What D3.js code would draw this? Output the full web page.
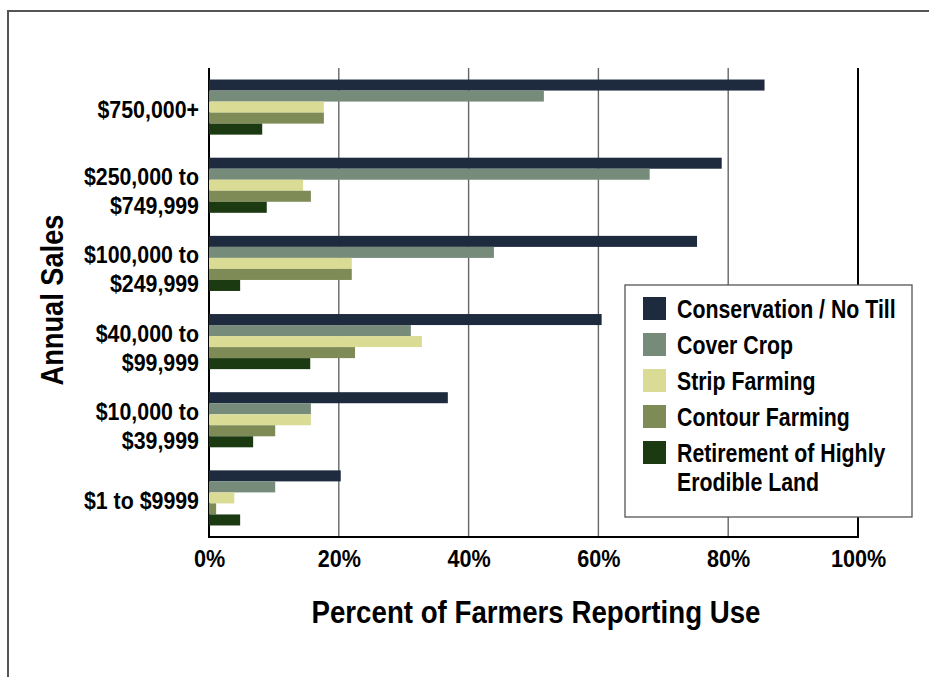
<!DOCTYPE html>
<html>
<head>
<meta charset="utf-8">
<script src="https://cdn.jsdelivr.net/npm/d3@7"></script>
<style>
  html, body { margin: 0; padding: 0; background: #fff; }
  svg text { font-family: "Liberation Sans", Arial, sans-serif; font-weight: bold; fill: #000; }
</style>
</head>
<body>
<svg id="chart" width="929" height="677"></svg>
<script>
// Sales classes, top to bottom
const categories = [
  ["$750,000+"],
  ["$250,000 to", "$749,999"],
  ["$100,000 to", "$249,999"],
  ["$40,000 to", "$99,999"],
  ["$10,000 to", "$39,999"],
  ["$1 to $9999"]
];
const seriesNames = [
  "Conservation / No Till",
  "Cover Crop",
  "Strip Farming",
  "Contour Farming",
  "Retirement of Highly Erodible Land"
];
const seriesColors = ["#1e2b3e", "#778b7b", "#dadb95", "#7e8b56", "#1c3a12"];

// Percent of farmers reporting each practice, one array per practice
const noTill      = [85.6, 79.0, 75.2, 60.5, 36.8, 20.3];
const coverCrop   = [51.6, 67.9, 43.9, 31.1, 15.7, 10.2];
const stripFarm   = [17.7, 14.5, 22.0, 32.8, 15.7, 3.9];
const contourFarm = [17.7, 15.7, 22.0, 22.5, 10.2, 1.1];
const retirement  = [8.2, 8.9, 4.8, 15.6, 6.8, 4.8];
const seriesValues = [noTill, coverCrop, stripFarm, contourFarm, retirement];

const xTicks = [0, 20, 40, 60, 80, 100];

const svg = d3.select("#chart");

// condensed bold type: move each text's anchor into a transform and squeeze horizontally
function condense(sel, factor, pre = "") {
  sel.each(function () {
    const t = d3.select(this);
    const tx = +t.attr("x") || 0, ty = +t.attr("y") || 0;
    t.attr("x", 0).attr("y", 0)
      .attr("transform", `${pre} translate(${tx},${ty}) scale(${factor},1)`);
  });
}

// page frame
svg.append("line").attr("x1", 8).attr("x2", 929).attr("y1", 11).attr("y2", 11)
  .attr("stroke", "#555").attr("stroke-width", 2);
svg.append("line").attr("x1", 8).attr("x2", 8).attr("y1", 10).attr("y2", 677)
  .attr("stroke", "#555").attr("stroke-width", 2);

const plotLeft = 209, plotRight = 858, plotTop = 68, plotBottom = 537;

const x = d3.scaleLinear().domain([0, 100]).range([plotLeft, plotRight]);
const y = d3.scaleBand().domain(d3.range(categories.length)).range([plotTop, plotBottom])
  .paddingInner(0.295).paddingOuter(0.1475);
const ySub = d3.scaleBand().domain(d3.range(seriesNames.length)).range([0, y.bandwidth()]);

// vertical gridlines
svg.append("g").selectAll("line").data(xTicks).join("line")
  .attr("x1", d => x(d)).attr("x2", d => x(d))
  .attr("y1", plotTop).attr("y2", plotBottom)
  .attr("stroke", d => (d === 0 || d === 100) ? "#000" : "#666")
  .attr("stroke-width", d => (d === 0 || d === 100) ? 2 : 1.4);

// bars
const groups = svg.append("g").selectAll("g").data(categories).join("g")
  .attr("transform", (d, i) => `translate(0,${y(i)})`);
groups.selectAll("rect")
  .data((d, i) => seriesValues.map((vals, s) => ({ s, v: vals[i] })))
  .join("rect")
  .attr("x", x(0))
  .attr("y", d => ySub(d.s))
  .attr("width", d => x(d.v) - x(0))
  .attr("height", ySub.bandwidth())
  .attr("fill", d => seriesColors[d.s]);

// baseline
svg.append("line").attr("x1", plotLeft - 1).attr("x2", plotRight + 1)
  .attr("y1", plotBottom).attr("y2", plotBottom)
  .attr("stroke", "#000").attr("stroke-width", 2);

// x tick labels
const xAxis = d3.axisBottom(x).tickValues(xTicks).tickFormat(d => d + "%").tickSize(0).tickPadding(0);
const xg = svg.append("g").attr("transform", `translate(0,${plotBottom})`).call(xAxis);
xg.attr("font-family", null).attr("font-size", null);
xg.select(".domain").remove();
xg.selectAll("text").attr("font-size", 24).attr("dy", null).attr("y", 30);
condense(xg.selectAll("text"), 0.9);

// y category labels
const yl = svg.append("g");
categories.forEach((lines, i) => {
  const c = y(i) + y.bandwidth() / 2;
  lines.forEach((t, j) => {
    const base = lines.length === 1 ? c + 11 : c + j * 29;
    yl.append("text").attr("x", 199).attr("y", base)
      .attr("text-anchor", "end").attr("font-size", 24).text(t);
  });
});
condense(yl.selectAll("text"), 0.89);

// axis titles
const xTitle = svg.append("text").attr("x", 536).attr("y", 623).attr("text-anchor", "middle")
  .attr("font-size", 32).text("Percent of Farmers Reporting Use");
condense(xTitle, 0.865);
const yTitle = svg.append("text").attr("x", 0).attr("y", 0)
  .attr("text-anchor", "middle").attr("font-size", 32).text("Annual Sales");
condense(yTitle, 0.85, "translate(63,300) rotate(-90)");

// legend
const lg = svg.append("g");
lg.append("rect").attr("x", 625).attr("y", 285).attr("width", 287).attr("height", 232)
  .attr("fill", "#fff").attr("stroke", "#555").attr("stroke-width", 1.3);
const legendLines = [
  ["Conservation / No Till"],
  ["Cover Crop"],
  ["Strip Farming"],
  ["Contour Farming"],
  ["Retirement of Highly", "Erodible Land"]
];
const ly = d3.scaleLinear().domain([0, 1]).range([297, 333]);
seriesNames.forEach((name, i) => {
  lg.append("rect").attr("x", 643).attr("y", ly(i)).attr("width", 23).attr("height", 23)
    .attr("fill", seriesColors[i]);
  legendLines[i].forEach((t, j) => {
    lg.append("text").attr("class", "legend-label").attr("x", 677).attr("y", ly(i) + 21 + j * 29)
      .attr("font-size", 26).text(t);
  });
});
condense(lg.selectAll("text"), 0.82);
</script>
</body>
</html>
